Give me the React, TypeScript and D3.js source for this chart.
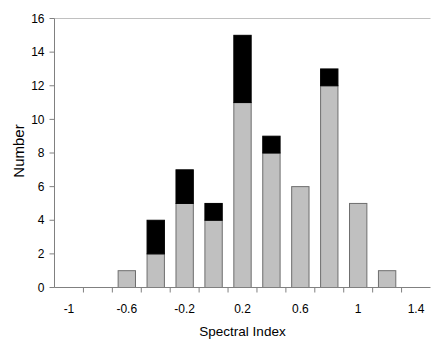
import React, { useEffect, useRef } from 'react';
import * as d3 from 'd3';

// spectral index bins and counts per bin
const categories = ['-1', '-0.8', '-0.6', '-0.4', '-0.2', '0', '0.2', '0.4', '0.6', '0.8', '1', '1.2', '1.4'];
const greyCounts = [0, 0, 1, 2, 5, 4, 11, 8, 6, 12, 5, 1, 0];
const blackCounts = [0, 0, 0, 2, 2, 1, 4, 1, 0, 1, 0, 0, 0];
const shownLabels = ['-1', '-0.6', '-0.2', '0.2', '0.6', '1', '1.4'];
const yTicks = [0, 2, 4, 6, 8, 10, 12, 14, 16];

const App = () => {
    const svgRef = useRef<SVGSVGElement>(null);

    useEffect(() => {
        const width = 436;
        const height = 354;
        const margin = { top: 18.5, right: 5.5, bottom: 66.5, left: 54.5 };
        const chartWidth = width - margin.left - margin.right;
        const chartHeight = height - margin.top - margin.bottom;
        const font = 'Liberation Sans, Arial, sans-serif';

        const svg = d3.select(svgRef.current);
        svg.selectAll('*').remove();
        svg.attr('width', width).attr('height', height);

        const chart = svg.append('g')
            .attr('transform', `translate(${margin.left}, ${margin.top})`);

        const xScale = d3.scaleBand()
            .domain(categories)
            .range([0, chartWidth])
            .paddingInner(0.4)
            .paddingOuter(0.2);
        const step = xScale.step();
        const yScale = d3.scaleLinear()
            .domain([0, 16])
            .range([chartHeight, 0]);

        // top frame line
        chart.append('line')
            .attr('x1', 0).attr('x2', chartWidth)
            .attr('y1', 0).attr('y2', 0)
            .attr('stroke', '#c0c0c0');

        const data = categories.map((c, i) => ({ cat: c, grey: greyCounts[i], black: blackCounts[i] }));

        chart.selectAll('.grey')
            .data(data.filter(d => d.grey > 0))
            .enter().append('rect')
            .attr('x', d => xScale(d.cat)!)
            .attr('y', d => yScale(d.grey))
            .attr('width', xScale.bandwidth())
            .attr('height', d => chartHeight - yScale(d.grey))
            .attr('fill', '#c0c0c0')
            .attr('stroke', '#6e6e6e')
            .attr('stroke-width', 1);

        chart.selectAll('.black')
            .data(data.filter(d => d.black > 0))
            .enter().append('rect')
            .attr('x', d => xScale(d.cat)!)
            .attr('y', d => yScale(d.grey + d.black))
            .attr('width', xScale.bandwidth())
            .attr('height', d => yScale(d.grey) - yScale(d.grey + d.black))
            .attr('fill', '#000')
            .attr('stroke', '#000')
            .attr('stroke-width', 1);

        // axes
        chart.append('line')
            .attr('x1', 0).attr('x2', chartWidth)
            .attr('y1', chartHeight).attr('y2', chartHeight)
            .attr('stroke', '#808080');
        chart.append('line')
            .attr('x1', 0).attr('x2', 0)
            .attr('y1', 0).attr('y2', chartHeight)
            .attr('stroke', '#808080');

        d3.range(1, categories.length).forEach(i => {
            chart.append('line')
                .attr('x1', i * step).attr('x2', i * step)
                .attr('y1', chartHeight).attr('y2', chartHeight + 5)
                .attr('stroke', '#808080');
        });

        chart.selectAll('.xlab')
            .data(shownLabels)
            .enter().append('text')
            .attr('x', d => xScale(d)! + xScale.bandwidth() / 2)
            .attr('y', chartHeight + 25)
            .attr('text-anchor', 'middle')
            .attr('font-family', font)
            .attr('font-size', 12)
            .text(d => d);

        yTicks.forEach(t => {
            chart.append('line')
                .attr('x1', -5).attr('x2', 0)
                .attr('y1', yScale(t)).attr('y2', yScale(t))
                .attr('stroke', '#808080');
            chart.append('text')
                .attr('x', -10)
                .attr('y', yScale(t))
                .attr('dy', '0.35em')
                .attr('text-anchor', 'end')
                .attr('font-family', font)
                .attr('font-size', 12)
                .text(t);
        });

        svg.append('text')
            .attr('x', margin.left + chartWidth / 2)
            .attr('y', 336)
            .attr('text-anchor', 'middle')
            .attr('font-family', font)
            .attr('font-size', 13.5)
            .text('Spectral Index');

        svg.append('text')
            .attr('transform', 'translate(24, 151) rotate(-90)')
            .attr('text-anchor', 'middle')
            .attr('font-family', font)
            .attr('font-size', 15)
            .text('Number');
    }, []);

    return (
        <div style={{ position: 'absolute', left: 0, top: 0 }}>
            <svg ref={svgRef}></svg>
        </div>
    );
};

export default App;
